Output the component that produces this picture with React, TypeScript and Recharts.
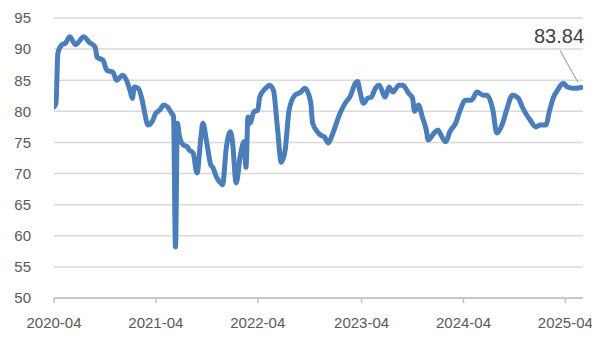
import React from "react";
import { LineChart, Line, XAxis, YAxis, CartesianGrid } from "recharts";

// week offsets since 2020-04 (start of the series)
const weeks = [
  0, 1, 2, 4, 6, 8, 11, 13, 15, 18, 21, 22, 25, 27, 30, 32, 35, 37, 39, 40,
  41, 43, 45, 46, 48, 50, 52, 54, 56, 58, 60, 61, 62, 63, 64, 66, 68, 69, 71, 73,
  75, 76, 78, 80, 81, 83, 85, 86, 88, 90, 91, 93, 95, 97, 98, 99, 100, 102, 104, 105,
  108, 110, 112, 114, 116, 118, 120, 123, 126, 128, 131, 132, 135, 136, 138, 140, 142, 146, 149, 151,
  154, 155, 156, 158, 160, 162, 164, 166, 169, 171, 173, 176, 178, 181, 183, 184, 186, 188, 190, 191,
  194, 196, 197, 200, 202, 205, 207, 210, 213, 216, 219, 221, 224, 226, 229, 231, 234, 237, 239, 243,
  246, 248, 251, 253, 255, 257, 260, 262, 265, 269,
];

const values = [
  80.7, 81.3, 89.4, 90.7, 91.0, 92.0, 90.7, 91.3, 92.0, 91.1, 90.3, 88.7, 88.2, 86.6, 86.3, 85.0, 85.8, 85.0, 83.1, 82.1,
  83.9, 83.7, 81.8, 80.2, 77.8, 78.3, 79.7, 80.2, 81.0, 80.7, 79.7, 79.2, 58.2, 78.1, 76.0, 74.6, 74.3, 73.8, 73.3, 70.1,
  75.9, 78.1, 74.9, 71.4, 71.0, 69.4, 68.5, 68.2, 74.3, 76.7, 75.4, 68.5, 72.7, 75.1, 71.0, 79.1, 78.1, 79.9, 80.2, 82.3,
  83.7, 84.2, 83.4, 77.5, 71.8, 73.8, 80.2, 82.6, 83.1, 83.7, 81.5, 78.1, 76.5, 76.2, 75.9, 74.9, 76.2, 79.7, 81.5, 82.3,
  84.6, 84.8, 83.4, 81.3, 82.1, 82.3, 83.7, 84.2, 82.3, 83.9, 83.1, 84.2, 84.2, 82.9, 82.1, 80.0, 81.0, 79.1, 77.0, 75.4,
  76.5, 77.0, 76.5, 75.1, 76.7, 78.1, 79.9, 81.8, 81.8, 83.1, 82.6, 82.6, 80.2, 76.5, 78.1, 80.2, 82.6, 82.1, 80.7, 78.6,
  77.5, 77.8, 77.8, 80.2, 82.3, 83.4, 84.5, 83.9, 83.7, 83.84,
];

const xTickWeeks = [0, 52, 104, 157, 209, 261];
const xTickLabels = ["2020-04", "2021-04", "2022-04", "2023-04", "2024-04", "2025-04"];
const yTicks = [50, 55, 60, 65, 70, 75, 80, 85, 90, 95];

const data = weeks.map((w, i) => ({ w, v: values[i] }));
const lastIndex = data.length - 1;

const FONT = "'Liberation Sans', Arial, sans-serif";

const EndLabel = (props: any) => {
  const { x, y, index, value } = props;
  if (index !== lastIndex) return null;
  return (
    <g>
      <line x1={x - 3} y1={y - 5} x2={x - 21} y2={y - 37} stroke="#a6a6a6" strokeWidth={1.2} />
      <text
        x={x - 22}
        y={y - 44}
        textAnchor="middle"
        fontFamily={FONT}
        fontSize={20}
        fill="#404040"
      >
        {Number(value).toFixed(2)}
      </text>
    </g>
  );
};

export default function App() {
  return (
    <div style={{ width: 592, height: 331 }}>
      <LineChart
        width={592}
        height={331}
        data={data}
        margin={{ top: 10, right: 17, bottom: 0, left: 0 }}
      >
        <CartesianGrid horizontal vertical={false} stroke="#d9d9d9" strokeWidth={1.5} />
        <XAxis
          dataKey="w"
          type="number"
          domain={[0, 270]}
          ticks={xTickWeeks}
          tickFormatter={(w: number) => xTickLabels[xTickWeeks.indexOf(w)] ?? ""}
          axisLine={{ stroke: "#bfbfbf", strokeWidth: 1.5 }}
          tickLine={{ stroke: "#bfbfbf", strokeWidth: 1.5 }}
          tickSize={5}
          tickMargin={14}
          height={41}
          tick={{ fontFamily: FONT, fontSize: 15, fill: "#595959" }}
          interval={0}
          allowDataOverflow
        />
        <YAxis
          domain={[50, 95]}
          ticks={yTicks}
          axisLine={false}
          tickLine={false}
          tickSize={0}
          tickMargin={23}
          width={46}
          interval={0}
          tick={{ fontFamily: FONT, fontSize: 15, fill: "#595959" }}
        />
        <Line
          dataKey="v"
          type="monotone"
          stroke="#4a7ebb"
          strokeWidth={5}
          strokeLinejoin="round"
          strokeLinecap="round"
          dot={false}
          activeDot={false}
          isAnimationActive={false}
          label={<EndLabel />}
        />
      </LineChart>
    </div>
  );
}
